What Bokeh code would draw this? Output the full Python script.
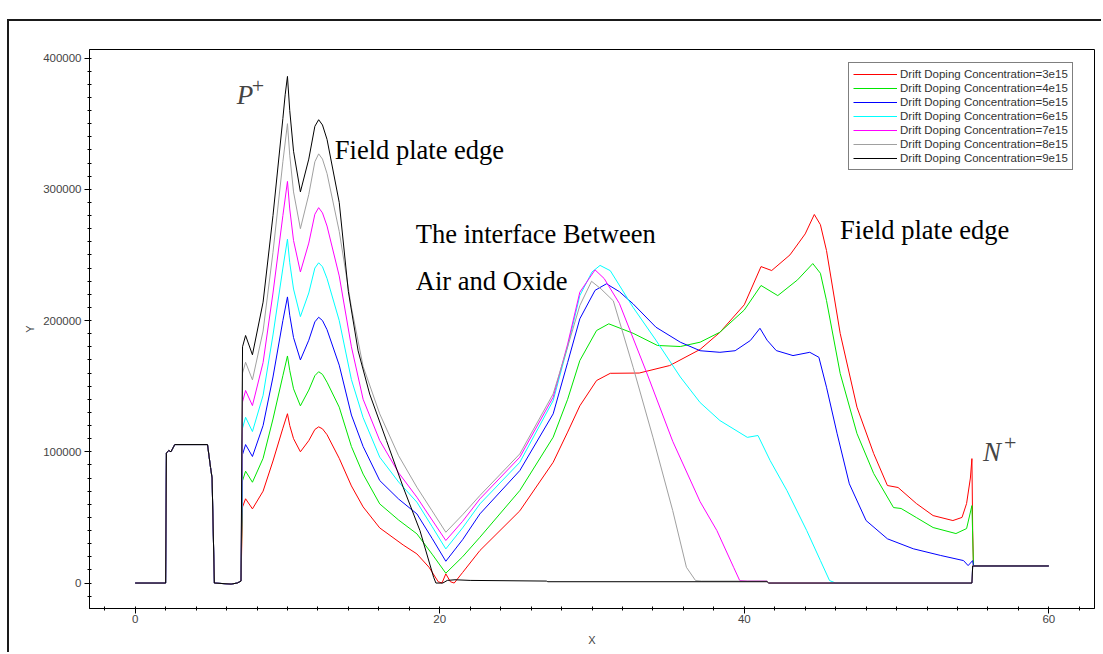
from bokeh.plotting import figure
from bokeh.models import FixedTicker, Label, Legend, LegendItem, PrintfTickFormatter, Range1d
from bokeh.embed import file_html
from bokeh.resources import INLINE

# ---------------- data ----------------
labels = ["Drift Doping Concentration=3e15", "Drift Doping Concentration=4e15",
          "Drift Doping Concentration=5e15", "Drift Doping Concentration=6e15",
          "Drift Doping Concentration=7e15", "Drift Doping Concentration=8e15",
          "Drift Doping Concentration=9e15"]
colors = ["#ff0000", "#00e600", "#0000ff", "#00ffff", "#ff00ff", "#a0a0a0", "#000000"]

# common left part (shared by every curve)
pre_x = [0, 2.0, 2.05, 2.2, 2.35, 2.6, 4.75, 4.95, 5.05, 5.2, 6.3, 6.7, 6.95]
pre_y = [0, 0, 99000, 101000, 100000, 105500, 105500, 88000, 80000, 0, -800, 0, 1500]

x_3e15 = [7.05, 7.25, 7.7, 8.4, 9.05, 9.7, 10.0, 10.15, 10.4, 10.85, 11.4, 11.8, 12.05, 12.3, 12.6, 13.4,
          14.2, 14.97, 16.06, 17.6, 18.5, 19.3, 19.9, 20.15, 20.4, 20.7, 20.95, 21.5, 22.64, 25.26, 27.45,
          28.4, 29.2, 30.3, 31.2, 33.1, 35.1, 37.1, 38.4, 40.0, 41.1, 41.8, 43.0, 44.0, 44.6, 45.0, 45.4,
          46.3, 47.4, 48.5, 49.4, 50.1, 51.3, 52.4, 53.7, 54.3, 54.6, 54.85, 54.95, 55.0, 55.05, 60.0]
y_3e15 = [58000, 64200, 56500, 70000, 93000, 118000, 129000, 120000, 110000, 100000, 108500, 117000, 119000,
          117500, 113000, 95000, 74000, 58000, 42000, 29000, 22200, 12000, 1000, 0, 7000, 1000, 0, 8000,
          24800, 55000, 92000, 115000, 135000, 154300, 159800, 160000, 165700, 178000, 191000, 212000,
          241100, 238100, 250000, 266000, 280800, 273000, 253300, 190100, 134000, 98600, 74300, 72800, 60600,
          51400, 47600, 50000, 60600, 80000, 94800, 40000, 13000, 13000]

x_4e15 = [7.05, 7.25, 7.7, 8.4, 9.05, 9.7, 10.0, 10.15, 10.4, 10.85, 11.4, 11.8, 12.05, 12.3, 12.6, 13.4,
          14.2, 14.97, 16.06, 17.3, 18.5, 19.5, 20.4, 21.5, 22.64, 25.26, 27.45, 28.4, 29.2, 30.3, 31.1, 32.7,
          34.3, 35.8, 37.1, 38.4, 40.0, 41.1, 42.2, 43.5, 44.5, 45.0, 45.4, 46.3, 47.4, 48.5, 49.8, 50.3,
          51.3, 52.4, 53.9, 54.6, 54.95, 55.05, 60.0]
y_4e15 = [78000, 85200, 76800, 95000, 125000, 158000, 173000, 162000, 148000, 135000, 147000, 158000, 161000,
          159000, 153000, 134000, 104000, 83000, 60300, 48000, 37500, 22000, 7500, 20000, 34900, 70500,
          111100, 140000, 169500, 192400, 197500, 190300, 181000, 180200, 183500, 191100, 208000, 226700,
          219000, 231000, 243400, 236000, 215200, 159600, 113900, 83400, 57500, 56800, 49900, 42300, 37700,
          41500, 59000, 13000, 13000]

x_5e15 = [7.05, 7.25, 7.7, 8.4, 9.05, 9.7, 10.0, 10.15, 10.4, 10.85, 11.4, 11.8, 12.05, 12.3, 12.6, 13.4,
          14.2, 14.97, 16.06, 17.3, 18.5, 19.5, 20.4, 21.5, 22.64, 25.26, 27.45, 28.4, 29.2, 30.2, 30.95, 31.8,
          32.7, 34.2, 35.8, 37.1, 38.4, 39.4, 40.4, 41.03, 41.5, 42.1, 43.2, 44.3, 44.9, 45.4, 46.1, 46.9,
          48.0, 49.4, 51.1, 52.9, 54.4, 54.7, 55.0, 55.05, 60.0]
y_5e15 = [98000, 105500, 96400, 120000, 157000, 200000, 218000, 204000, 187000, 170000, 185000, 199000,
          202500, 200000, 193000, 166000, 128000, 104000, 78100, 64000, 52700, 34000, 16600, 33000, 52700,
          85700, 128900, 168000, 201300, 223000, 228000, 222000, 212700, 194900, 183500, 177000, 175800,
          177000, 184800, 194100, 185000, 177100, 173300, 175800, 172000, 149200, 113700, 75600, 47600, 33700,
          26100, 21000, 17100, 13300, 17100, 13000, 13000]

x_6e15 = [7.05, 7.25, 7.7, 8.4, 9.05, 9.7, 10.0, 10.15, 10.4, 10.85, 11.4, 11.8, 12.05, 12.3, 12.6, 13.4,
          14.2, 14.97, 16.06, 17.3, 18.5, 19.5, 20.4, 21.5, 22.64, 25.26, 27.45, 28.4, 29.2, 30.0, 30.53, 31.2,
          32.7, 34.2, 35.8, 37.1, 38.4, 40.2, 40.9, 41.7, 42.8, 44.1, 45.0, 45.6, 46.0, 54.95, 55.0, 60.0]
y_6e15 = [118000, 126300, 115400, 143000, 189000, 240000, 262000, 244000, 224000, 203000, 221000, 240000,
          244000, 241000, 232000, 200000, 155000, 126000, 95900, 77000, 61600, 43000, 26000, 42000, 60300,
          92000, 139000, 180000, 219000, 237000, 242000, 238000, 210000, 185000, 157000, 137500, 123800,
          111000, 112400, 93300, 70500, 40000, 17100, 1900, 0, 0, 13000, 13000]

x_7e15 = [7.05, 7.25, 7.7, 8.4, 9.05, 9.7, 10.0, 10.15, 10.4, 10.85, 11.4, 11.8, 12.05, 12.3, 12.6, 13.4,
          14.2, 14.97, 16.06, 17.3, 18.5, 19.5, 20.4, 21.5, 22.64, 25.26, 27.45, 28.4, 29.2, 30.2, 30.8, 31.8,
          33.6, 35.3, 37.1, 38.2, 39.3, 39.7, 40.2, 41.5, 41.6, 54.95, 55.0, 60.0]
y_7e15 = [138000, 146700, 135200, 168000, 221000, 280000, 306000, 285000, 261000, 237000, 259000, 281000,
          286000, 282000, 272000, 234000, 180000, 140000, 108600, 84000, 65400, 48000, 32400, 47000, 64100,
          95900, 141600, 182000, 221600, 238600, 232000, 213000, 160000, 108000, 62000, 40000, 12000, 1900,
          1500, 1500, 0, 0, 13000, 13000]

x_8e15 = [7.05, 7.25, 7.7, 8.4, 9.05, 9.7, 10.0, 10.15, 10.4, 10.85, 11.4, 11.8, 12.05, 12.3, 12.6, 13.4,
          14.2, 14.97, 16.06, 17.3, 18.5, 19.5, 20.4, 21.5, 22.64, 25.26, 27.45, 28.4, 29.2, 29.97, 30.6, 31.4,
          32.7, 34.0, 35.3, 36.2, 36.8, 37.2, 41.5, 41.6, 54.95, 55.0, 60.0]
y_8e15 = [160000, 168200, 154800, 192000, 252000, 321000, 350000, 326000, 298000, 270000, 296000, 321000,
          327000, 323000, 312000, 268000, 210000, 165000, 128900, 97000, 73000, 55000, 38700, 52000, 66700,
          98400, 144100, 180000, 211400, 229900, 224000, 215000, 164400, 111100, 55200, 12000, 1900, 1500,
          1500, 0, 0, 13000, 13000]

x_9e15 = [7.05, 7.25, 7.7, 8.4, 9.05, 9.7, 9.85, 10.0, 10.15, 10.4, 10.85, 11.4, 11.8, 12.05, 12.3, 12.6,
          13.4, 14.0, 14.64, 15.4, 16.5, 17.6, 18.7, 19.6, 19.75, 20.2, 20.5, 21.0, 22.0, 27.0, 27.1, 41.5,
          41.6, 54.95, 55.0, 60.0]
y_9e15 = [180000, 188600, 173900, 214000, 280000, 354000, 372000, 386000, 360000, 329000, 298000, 323000,
          348000, 353000, 349000, 338000, 290000, 222000, 177000, 144000, 108600, 73000, 40000, 4400, 0, 0,
          2000, 2500, 2000, 1500, 1000, 1000, 0, 0, 13000, 13000]

series_x = [x_3e15, x_4e15, x_5e15, x_6e15, x_7e15, x_8e15, x_9e15]
series_y = [y_3e15, y_4e15, y_5e15, y_6e15, y_7e15, y_8e15, y_9e15]

x_major = [0, 20, 40, 60]
x_minor = list(range(-2, 64, 2))
y_major = [0, 100000, 200000, 300000, 400000]
y_minor = list(range(-10000, 410000, 10000))

annotations = [("Field plate edge", 13.11, 329600), ("The interface Between", 18.43, 266300),
               ("Air and Oxide", 18.43, 230500), ("Field plate edge", 46.29, 268600)]

# ---------------- figure ----------------
p = figure(width=1094, height=633, x_range=Range1d(-3, 63), y_range=Range1d(-19400, 406500),
           output_backend="svg", toolbar_location=None,
           min_border_left=80, min_border_right=9, min_border_top=28, min_border_bottom=46)
p.styles = {"margin-left": "7px", "margin-top": "19px",
            "border-left": "2px solid #1a1a1a", "border-top": "2px solid #1a1a1a"}
p.background_fill_color = "white"
p.border_fill_color = "white"
p.outline_line_color = "black"
p.outline_line_width = 1
p.xgrid.visible = False
p.ygrid.visible = False

for ax in (p.xaxis[0], p.yaxis[0]):
    ax.axis_line_color = "black"
    ax.major_tick_line_color = "black"
    ax.minor_tick_line_color = "black"
    ax.major_tick_out = 5
    ax.major_tick_in = 0
    ax.minor_tick_out = 2
    ax.minor_tick_in = 2
    ax.major_label_text_font = "Liberation Sans"
    ax.major_label_text_font_size = "11.5px"
    ax.major_label_text_color = "#444444"
    ax.axis_label_text_font = "Liberation Sans"
    ax.axis_label_text_font_size = "11px"
    ax.axis_label_text_font_style = "normal"
    ax.axis_label_text_color = "#444444"

p.xaxis.ticker = FixedTicker(ticks=x_major, minor_ticks=x_minor)
p.yaxis.ticker = FixedTicker(ticks=y_major, minor_ticks=y_minor)
p.yaxis.formatter = PrintfTickFormatter(format="%d")
p.xaxis.formatter = PrintfTickFormatter(format="%d")
p.xaxis.axis_label = "X"
p.yaxis.axis_label = "Y"
p.xaxis.major_label_standoff = 1
p.yaxis.major_label_standoff = 3
p.xaxis.axis_label_standoff = 8
p.yaxis.axis_label_standoff = 4

items = []
for lab, col, xs, ys in zip(labels, colors, series_x, series_y):
    assert len(xs) == len(ys), lab
    r = p.line(pre_x + xs, pre_y + ys, line_color=col, line_width=1)
    items.append(LegendItem(label=lab, renderers=[r]))

legend = Legend(items=items, location=(759, 438))
legend.border_line_color = "black"
legend.border_line_width = 1
legend.background_fill_color = "white"
legend.background_fill_alpha = 1
legend.padding = 4
legend.spacing = 0
legend.margin = 0
legend.glyph_width = 44
legend.glyph_height = 14
legend.label_height = 14
legend.label_standoff = 3
legend.label_text_font = "Liberation Sans"
legend.label_text_font_size = "11.5px"
legend.label_text_color = "#333333"
p.add_layout(legend)

for txt, xx, yy in annotations:
    p.add_layout(Label(x=xx, y=yy, text=txt, text_font="Liberation Serif", text_font_size="26.5px",
                       text_baseline="alphabetic", text_color="black"))

# P+ and N+ markers
p.add_layout(Label(x=6.67, y=371500, text="P", text_font="Liberation Serif", text_font_style="italic",
                   text_font_size="27px", text_baseline="alphabetic"))
p.add_layout(Label(x=7.65, y=378500, text="+", text_font="Liberation Serif",
                   text_font_size="22px", text_baseline="alphabetic"))
p.add_layout(Label(x=55.68, y=99500, text="N", text_font="Liberation Serif", text_font_style="italic",
                   text_font_size="27px", text_baseline="alphabetic"))
p.add_layout(Label(x=57.05, y=106500, text="+", text_font="Liberation Serif",
                   text_font_size="22px", text_baseline="alphabetic"))

open("out.html", "w").write(file_html(p, INLINE))
